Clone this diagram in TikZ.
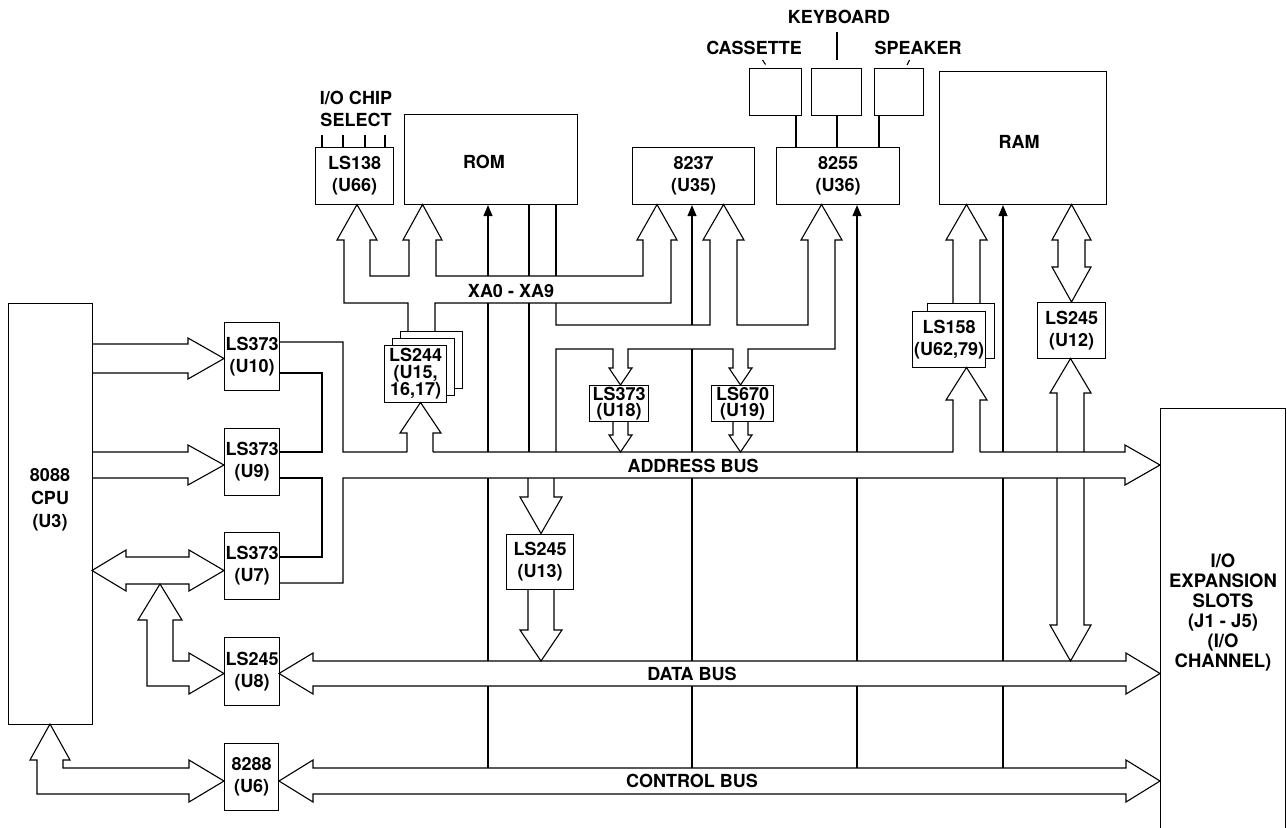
\documentclass[tikz,border=0pt]{standalone}
\usepackage{fontspec}
\setmainfont{TeX Gyre Heros}
\usetikzlibrary{arrows.meta}
\newcommand\lblfont{\fontsize{18}{22}\selectfont\bfseries}
\newcommand\tightfont{\fontsize{18}{16}\selectfont\bfseries}
\begin{document}
\begin{tikzpicture}[x=1pt,y=-1pt,
  ln/.style={line width=1.1pt,line join=miter},
  box/.style={draw,line width=1.1pt,fill=white,inner sep=0pt,align=center,font=\lblfont,anchor=north west},
  tag/.style={font=\lblfont,align=center,inner sep=0pt},
  ctl/.style={ln,-{Triangle[length=11pt,width=9pt]}}]
\useasboundingbox (0,0) rectangle (1287,827);
\fill[white] (0,0) rectangle (1287,827);

% ---------------- boxes ----------------
\node[box,minimum width=84,minimum height=421] (cpu) at (8,303) {};
\node[tag,font=\fontsize{18}{23}\selectfont\bfseries] (cpulbl) at (50,500) {8088\\CPU\\(U3)};
\node[box,minimum width=55,minimum height=68] (u10) at (224,322) {LS373\\(U10)};
\node[box,minimum width=55,minimum height=67] (u9) at (224,428) {LS373\\(U9)};
\node[box,minimum width=55,minimum height=67] (u7) at (224,532) {LS373\\(U7)};
\node[box,minimum width=55,minimum height=68] (u8) at (224,637) {LS245\\(U8)};
\node[box,minimum width=54,minimum height=67] (u6) at (224,743) {8288\\(U6)};
\node[box,minimum width=78,minimum height=57] (u66) at (315,147) {LS138\\(U66)};
\node[box,minimum width=173,minimum height=90] (rom) at (404,114) {};
\node[tag] (romlbl) at (484,162) {ROM};
\node[box,minimum width=122,minimum height=57] (u35) at (632,147) {8237\\(U35)};
\node[box,minimum width=123,minimum height=57] (u36) at (776,147) {8255\\(U36)};
\node[box,minimum width=167,minimum height=133] (ram) at (939,71) {};
\node[tag] (ramlbl) at (1019,142) {RAM};
\node[box,minimum width=52,minimum height=47] (cas) at (749,68) {};
\node[box,minimum width=50,minimum height=47] (kbd) at (811,68) {};
\node[box,minimum width=49,minimum height=47] (spk) at (874,68) {};
\node[box,minimum width=62,minimum height=57] (u15c) at (400,331) {};
\node[box,minimum width=62,minimum height=57] (u15b) at (392,338) {};
\node[box,minimum width=62,minimum height=57,font=\fontsize{18}{17}\selectfont\bfseries] (u15) at (384,345) {LS244\\(U15,\\16,17)};
\node[box,minimum width=67,minimum height=55] (u62b) at (927,303) {};
\node[box,minimum width=73,minimum height=56] (u62) at (912,311) {LS158\\(U62,79)};
\node[box,minimum width=68,minimum height=56] (u12) at (1037,302) {LS245\\(U12)};
\node[box,minimum width=59,minimum height=36,font=\tightfont] (u18) at (589,385) {LS373\\(U18)};
\node[box,minimum width=62,minimum height=36,font=\tightfont] (u19) at (711,385) {LS670\\(U19)};
\node[box,minimum width=67,minimum height=55] (u13) at (506,534) {LS245\\(U13)};
\node[box,minimum width=125,minimum height=440] (io) at (1160,408) {};
\node[tag,font=\fontsize{18.5}{20}\selectfont\bfseries] (iolbl) at (1223,612) {I/O\\EXPANSION\\SLOTS\\(J1 - J5)\\(I/O\\CHANNEL)};

% ---------------- XA0-XA9 band (LS138, ROM, 8237 left) ----------------
\draw[ln] (408,331) -- (408,303) -- (344,303) -- (344,240) -- (337,240) -- (357,204.5) -- (377,240) -- (370,240)
  -- (370,276) -- (409,276) -- (409,240) -- (403,240) -- (422.5,204.5) -- (442,240) -- (436,240) -- (436,276)
  -- (643,276) -- (643,240) -- (637,240) -- (657,204.5) -- (677,240) -- (671,240) -- (671,303) -- (435,303) -- (435,331);
% ROM data band edges
\draw[ln] (529,204) -- (529,276) (529,303) -- (529,452);
\draw[ln] (556,204) -- (556,276);
% XD band (8237 right, 8255, LS373 U18, LS670 U19)
\draw[ln] (556,303) -- (556,325) -- (710,325) -- (710,240) -- (703,240) -- (723.5,204.5) -- (744,240) -- (737,240)
  -- (737,325) -- (808,325) -- (808,240) -- (801,240) -- (821.5,204.5) -- (842,240) -- (835,240)
  -- (835,349) -- (748,349) -- (748,368) -- (752,368) -- (740.5,385) -- (729,368) -- (733,368) -- (733,349)
  -- (628,349) -- (628,368) -- (632,368) -- (620.5,385) -- (609,368) -- (613,368) -- (613,349)
  -- (556,349) -- (556,452);
% U18 / U19 outputs to address bus
\draw[ln] (613,421) -- (613,435) -- (609,435) -- (620.5,452) -- (632,435) -- (628,435) -- (628,421);
\draw[ln] (733,421) -- (733,435) -- (729,435) -- (740.5,452) -- (752,435) -- (748,435) -- (748,421);

% ---------------- control lines ----------------
\draw[ctl] (488,276) -- (rom.south -| 488,0);
\draw[ctl] (692,325) -- (u35.south -| 692,0);
\draw[ctl] (857,452) -- (u36.south -| 857,0);
\draw[ctl] (1003,452) -- (ram.south -| 1003,0);
\draw[ln] (488,303) -- (488,452) (692,349) -- (692,452);
\foreach \x in {488,692,857,1003} \draw[ln] (\x,478) -- (\x,661) (\x,686) -- (\x,768);

% ---------------- LS244 input ----------------
\draw[ln] (407,452) -- (407,433) -- (400,433) -- (420.5,402.5) -- (441,433) -- (433,433) -- (433,452);
% ---------------- LS158 ----------------
\draw[ln] (953,303) -- (953,240) -- (946,240) -- (966.5,204.5) -- (987,240) -- (980,240) -- (980,303);
\draw[ln] (953,452) -- (953,400) -- (946,400) -- (966.5,367.5) -- (987,400) -- (980,400) -- (980,452);
% ---------------- RAM <-> U12, U12 <-> data bus ----------------
\draw[ln] (1058,240) -- (1052,240) -- (1071.5,204.5) -- (1091,240) -- (1085,240) -- (1085,267) -- (1091,267)
  -- (1071.5,302) -- (1052,267) -- (1058,267) -- cycle;
\draw[ln] (1057,452) -- (1057,393) -- (1050,393) -- (1070.5,358.5) -- (1091,393) -- (1084,393) -- (1084,452);
\draw[ln] (1057,478) -- (1057,625) -- (1050,625) -- (1070.5,661) -- (1091,625) -- (1084,625) -- (1084,478);
% ---------------- LS245 U13 ----------------
\draw[ln] (528,478) -- (528,497) -- (520,497) -- (541,533.5) -- (562,497) -- (554,497) -- (554,478);
\draw[ln] (528,589) -- (528,630) -- (520,630) -- (541,661) -- (562,630) -- (554,630) -- (554,589);

% ---------------- address bus ----------------
\draw[ln] (279,342) -- (343,342) -- (343,452) -- (407,452) (433,452) -- (953,452)
  (980,452) -- (1125,452) -- (1125,445) -- (1160,465) -- (1125,485) -- (1125,478) -- (343,478) -- (343,583) -- (279,583);
\draw[ln] (279,373) -- (322,373) -- (322,452) -- (279,452);
\draw[ln] (279,478) -- (322,478) -- (322,557) -- (279,557);
% ---------------- data bus ----------------
\draw[ln] (313,661) -- (313,653) -- (279,673.5) -- (313,694) -- (313,686) -- (1126,686) -- (1126,694)
  -- (1160,673.5) -- (1126,653) -- (1126,661) -- cycle;
% ---------------- control bus ----------------
\draw[ln] (313,768) -- (313,760) -- (279,781) -- (313,802) -- (313,794) -- (1126,794) -- (1126,802)
  -- (1160,781) -- (1126,760) -- (1126,768) -- cycle;

% ---------------- CPU side ----------------
\draw[ln] (92,344) -- (188,344) -- (188,338) -- (224,358.5) -- (188,379) -- (188,373) -- (92,373);
\draw[ln] (92,452) -- (188,452) -- (188,445) -- (224,465) -- (188,485) -- (188,478) -- (92,478);
\draw[ln] (92,570.5) -- (126,550) -- (126,557) -- (189,557) -- (189,550) -- (224,570.5) -- (189,591)
  -- (189,584) -- (126,584) -- (126,591) -- cycle;
\draw[ln] (189,661) -- (189,653) -- (224,673.5) -- (189,694) -- (189,686) -- (147,686) -- (147,620)
  -- (138,620) -- (160,584) -- (182,620) -- (173,620) -- (173,661) -- cycle;
\draw[ln] (50,724) -- (70,760) -- (63,760) -- (63,768) -- (189,768) -- (189,760) -- (224,781) -- (189,802)
  -- (189,794) -- (37,794) -- (37,760) -- (30,760) -- cycle;

% ---------------- peripheral links ----------------
\draw[ln] (cas.south -| 796,0) -- (u36.north -| 796,0);
\draw[ln] (kbd.south -| 837,0) -- (u36.north -| 837,0);
\draw[ln] (spk.south -| 879,0) -- (u36.north -| 879,0);
\foreach \x in {322,343,365,385} \draw[ln] (\x,135) -- (u66.north -| \x,0);

% ---------------- labels ----------------
\node[tag] (cs) at (356,108.5) {I/O CHIP\\SELECT};
\node[tag] (casl) at (754,48) {CASSETTE};
\node[tag] (kbdl) at (839,17) {KEYBOARD};
\node[tag] (spkl) at (918,48) {SPEAKER};
\draw[ln] (762.5,60) -- (765.5,64.5);
\draw[ln] (837,32) -- (837,60);
\draw[ln] (909.5,60) -- (907,65);
\node[tag] (xal) at (511,291) {XA0 - XA9};
\node[tag] (abl) at (693,466) {ADDRESS BUS};
\node[tag] (dbl) at (692,674) {DATA BUS};
\node[tag] (cbl) at (692,781) {CONTROL BUS};
\end{tikzpicture}
\end{document}
